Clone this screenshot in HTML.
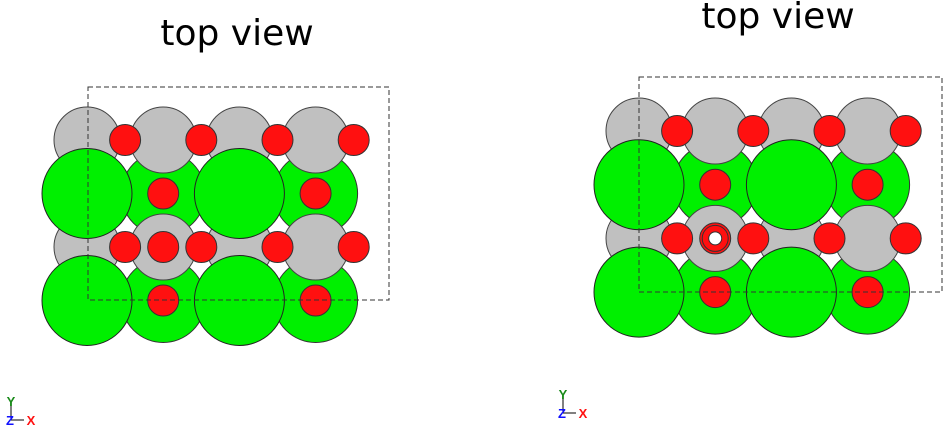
<!DOCTYPE html>
<html><head><meta charset="utf-8"><style>
body{margin:0;background:#fff;width:949px;height:438px;overflow:hidden;font-family:"Liberation Sans","DejaVu Sans",sans-serif}
svg{position:absolute;left:0;top:0}
</style></head><body>
<svg id="s" width="949" height="438">
<text x="237" y="45" font-size="36" text-anchor="middle" font-family="DejaVu Sans, sans-serif">top view</text>
<text x="778" y="28" font-size="36" text-anchor="middle" font-family="DejaVu Sans, sans-serif">top view</text>
<g id="L"></g>
<g id="R"></g>
<g>
<line x1="11" y1="405" x2="11" y2="420" stroke="#000"/><line x1="11" y1="420" x2="24" y2="420" stroke="#000"/>
<text x="11" y="406" font-size="13" font-weight="bold" fill="#1a8a1a" text-anchor="middle">Y</text>
<text x="10" y="425" font-size="13" font-weight="bold" fill="#1010ff" text-anchor="middle">Z</text>
<text x="31" y="425" font-size="13" font-weight="bold" fill="#ff1010" text-anchor="middle">X</text>
</g>
<g>
<line x1="563" y1="398" x2="563" y2="413" stroke="#000"/><line x1="563" y1="413" x2="576" y2="413" stroke="#000"/>
<text x="563" y="399" font-size="13" font-weight="bold" fill="#1a8a1a" text-anchor="middle">Y</text>
<text x="562" y="418" font-size="13" font-weight="bold" fill="#1010ff" text-anchor="middle">Z</text>
<text x="583" y="418" font-size="13" font-weight="bold" fill="#ff1010" text-anchor="middle">X</text>
</g>
</svg>
<script>
// lattice units: column index (step 1 = one gray spacing), row index
const smallGreen = [[1,1],[3,1],[1,3],[3,3]];
const grays = [[0,0],[1,0],[2,0],[3,0],[0,2],[1,2],[2,2],[3,2]];
const bigGreen = [[0,1],[2,1],[0,3],[2,3]];
const reds = [[0.5,0],[1.5,0],[2.5,0],[3.5,0],[1,1],[3,1],[0.5,2],[1,2],[1.5,2],[2.5,2],[3.5,2],[1,3],[3,3]];
const vacancyRight = [1,2];
const NS='http://www.w3.org/2000/svg';
function panel(g, ox, oy, dx, dy, box, vac){
  const X=c=>ox+c*dx, Y=r=>oy+r*dy;
  function circ(p,rad,fill,stroke,name){
    const c=document.createElementNS(NS,'circle');
    c.setAttribute('cx',X(p[0]));c.setAttribute('cy',Y(p[1]));c.setAttribute('r',rad);
    c.setAttribute('fill',fill);c.setAttribute('stroke',stroke||'#333');c.setAttribute('stroke-width','1');
    
    
    g.appendChild(c);return c;
  }
  smallGreen.forEach(p=>circ(p,42,'#00f000','#333','green-atom'));
  grays.forEach(p=>circ(p,33,'#c0c0c0','#444','gray-atom'));
  bigGreen.forEach(p=>circ(p,45,'#00f000','#222','large-green-atom'));
  reds.forEach(p=>{
    circ(p,15.5,'#ff1010','#333','red-atom');
    if(vac && p[0]===vac[0] && p[1]===vac[1]){
      circ(p,13,'#ff1010','#333','vacancy-ring');
      circ(p,6.5,'#fff','#333','vacancy');
    }
  });
  const r=document.createElementNS(NS,'rect');
  r.setAttribute('x',box[0]);r.setAttribute('y',box[1]);r.setAttribute('width',box[2]);r.setAttribute('height',box[3]);
  r.setAttribute('fill','none');r.setAttribute('stroke','#333');r.setAttribute('stroke-dasharray','5,3');
  
  
  g.appendChild(r);
}
panel(document.getElementById('L'),87,140,76.2,53.5,[88,87,301,213],null);
panel(document.getElementById('R'),639,131,76.2,53.7,[639,77,303,215],vacancyRight);
</script>
</body></html>
